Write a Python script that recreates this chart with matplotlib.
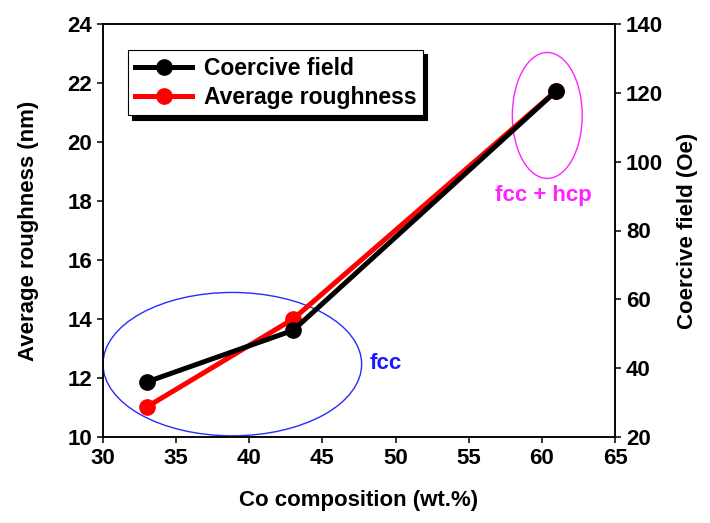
import matplotlib.pyplot as plt
from matplotlib.patches import Ellipse

plt.rcParams['font.family'] = ['Liberation Sans', 'DejaVu Sans']
plt.rcParams['font.weight'] = 'bold'

# data
co_wt = [33, 43, 61]
roughness_nm = [11.02, 14.0, 21.74]
coercive_oe = [36.0, 51.0, 120.6]

x_ticks = [30, 35, 40, 45, 50, 55, 60, 65]
left_ticks = [10, 12, 14, 16, 18, 20, 22, 24]
right_ticks = [20, 40, 60, 80, 100, 120, 140]

fig = plt.figure(figsize=(7.1, 5.23), dpi=100)
ax = fig.add_axes([103 / 710, 1 - 437 / 523, 512 / 710, 413 / 523])
ax2 = ax.twinx()

l_red, = ax.plot(co_wt, roughness_nm, color='red', lw=3.6, marker='o', ms=11,
                 label='Average roughness')
l_blk, = ax2.plot(co_wt, coercive_oe, color='black', lw=3.6, marker='o', ms=11,
                  label='Coercive field')

ax.set_xlim(30, 65)
ax.set_ylim(10, 24)
ax2.set_ylim(20, 140)
ax.set_xticks(x_ticks)
ax.set_yticks(left_ticks)
ax2.set_yticks(right_ticks)

for a in (ax, ax2):
    a.tick_params(direction='out', length=4.5, width=1.1, labelsize=16)
    for s in a.spines.values():
        s.set_linewidth(1.1)

ax.set_xlabel('Co composition (wt.%)', fontsize=16, fontweight='bold', labelpad=15)
ax.set_ylabel('Average roughness (nm)', fontsize=16, fontweight='bold', labelpad=20)
ax2.set_ylabel('Coercive field (Oe)', fontsize=16, fontweight='bold', labelpad=10)

# phase regions
ax.add_patch(Ellipse((38.84, 12.47), 17.68, 4.86, fill=False, edgecolor='#2a2aff', lw=1.0))
ax.add_patch(Ellipse((60.37, 20.9), 4.78, 4.27, fill=False, edgecolor='#ff22ff', lw=1.0))
ax.text(48.2, 12.5, 'fcc', color='#1a1aff', fontsize=16, fontweight='bold', va='center')
ax.text(60.1, 18.18, 'fcc + hcp', color='#ff22ff', fontsize=16, fontweight='bold',
        va='center', ha='center')

leg = ax2.legend([l_blk, l_red], ['Coercive field', 'Average roughness'],
                 loc='upper left', bbox_to_anchor=(128 / 710, 1 - 50 / 523),
                 bbox_transform=fig.transFigure, borderaxespad=0, fancybox=False,
                 edgecolor='black', framealpha=1, fontsize=16.5, handlelength=2.5,
                 handletextpad=0.5, borderpad=0.3, labelspacing=0.25,
                 shadow={'ox': 3, 'oy': -3, 'color': 'black', 'alpha': 1})
leg.get_frame().set_linewidth(0.8)

fig.savefig('out.png', dpi=100)
